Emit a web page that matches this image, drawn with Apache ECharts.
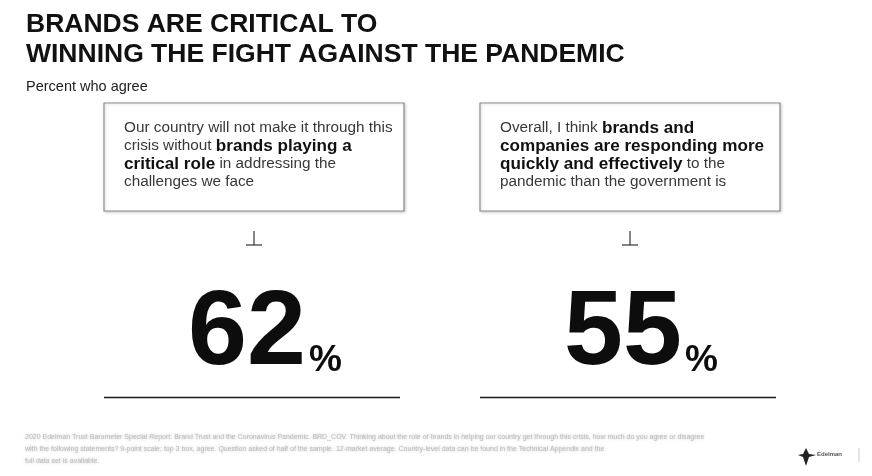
<!DOCTYPE html>
<html>
<head>
<meta charset="utf-8">
<script src="https://cdn.jsdelivr.net/npm/echarts@6/dist/echarts.min.js"></script>
<style>
html,body{margin:0;padding:0;background:#fff;}
#c{width:872px;height:476px;}
</style>
</head>
<body>
<div id="c"></div>
<script>
// ---- data ----
const titleText = 'BRANDS ARE CRITICAL TO\nWINNING THE FIGHT AGAINST THE PANDEMIC';
const subtitleText = 'Percent who agree';
const categories = ['Brands critical role', 'Brands responding faster'];
const statements = [
  'Our country will not make it through this\ncrisis without {b|brands playing a}\n{b|critical role} in addressing the\nchallenges we face',
  'Overall, I think {b|brands and}\n{b|companies are responding more}\n{b|quickly and effectively} to the\npandemic than the government is'
];
const values = [62, 55];
const footnoteText = '2020 Edelman Trust Barometer Special Report: Brand Trust and the Coronavirus Pandemic. BRD_COV. Thinking about the role of brands in helping our country get through this crisis, how much do you agree or disagree\nwith the following statements? 9-point scale; top 3 box, agree. Question asked of half of the sample. 12-market average. Country-level data can be found in the Technical Appendix and the\nfull data set is available.';
const logoText = 'Edelman';

const FONT = '"Liberation Sans", Arial, Helvetica, sans-serif';
const chart = echarts.init(document.getElementById('c'), null, {renderer: 'canvas'});

const option = {
  backgroundColor: '#ffffff',
  animation: false,
  title: {
    text: titleText,
    subtext: subtitleText,
    left: 21,
    top: 5,
    itemGap: 9,
    textStyle: {fontFamily: FONT, fontSize: 26.5, fontWeight: 'bold', color: '#111', lineHeight: 30},
    subtextStyle: {fontFamily: FONT, fontSize: 14.5, color: '#222'}
  },
  grid: {left: 66, right: 54, top: 285, height: 96},
  xAxis: {type: 'category', data: categories, show: false},
  yAxis: {type: 'category', data: ['agree'], show: false},
  series: [{
    type: 'scatter',
    symbolSize: 0,
    itemStyle: {opacity: 1, color: '#0d0d0d'},
    data: values.map((v, i) => [i, 0, v]),
    encode: {x: 0, y: 1},
    label: {
      show: true,
      position: 'inside',
      offset: [11, 0],
      opacity: 1,
      color: '#0d0d0d',
      textBorderWidth: 0,
      formatter: p => '{n|' + p.value[2] + '}{p|%}',
      rich: {
        n: {fontFamily: FONT, fontSize: 106, fontWeight: 'bold', color: '#0d0d0d', verticalAlign: 'bottom', lineHeight: 110, textBorderWidth: 0},
        p: {fontFamily: FONT, fontSize: 37, fontWeight: 'bold', color: '#0d0d0d', verticalAlign: 'bottom', lineHeight: 110, padding: [0, 0, 9, 3], textBorderWidth: 0}
      }
    }
  }]
};
chart.setOption(option);

// build annotation graphics around each category position
const graphics = [];
categories.forEach((c, i) => {
  const cx = chart.convertToPixel({xAxisIndex: 0}, i);
  const boxL = cx - 150, boxW = 300, boxT = 103, boxH = 108;
  graphics.push({
    type: 'rect', shape: {x: boxL, y: boxT, width: boxW, height: boxH},
    style: {fill: '#fff', stroke: '#8c8c8c', lineWidth: 1.2, shadowColor: 'rgba(0,0,0,0.18)', shadowBlur: 3, shadowOffsetX: 1, shadowOffsetY: 1}
  });
  graphics.push({
    type: 'text', x: boxL + 20, y: boxT + 16,
    style: {
      text: statements[i], fontFamily: FONT, fontSize: 15.3, fill: '#383838', lineHeight: 18,
      rich: {b: {fontFamily: FONT, fontSize: 17.1, fontWeight: 'bold', fill: '#111', lineHeight: 18}}
    }
  });
  // connector
  graphics.push({type: 'line', shape: {x1: cx, y1: 231, x2: cx, y2: 245}, style: {stroke: '#333', lineWidth: 1.2}});
  graphics.push({type: 'line', shape: {x1: cx - 8, y1: 245, x2: cx + 8, y2: 245}, style: {stroke: '#333', lineWidth: 1.2}});
  // underline
  graphics.push({type: 'line', shape: {x1: boxL, y1: 397.5, x2: boxL + 296, y2: 397.5}, style: {stroke: '#1a1a1a', lineWidth: 1.6}});
});
// footnote
graphics.push({
  type: 'text', x: 25, y: 431,
  style: {text: footnoteText, fontFamily: FONT, fontSize: 7, fill: '#bdbdbd', lineHeight: 12, width: 740, overflow: 'truncate',
          textShadowColor: 'rgba(150,150,150,0.6)', textShadowBlur: 3}
});
// logo
graphics.push({type: 'polygon', shape: {points: [[806,448],[809,454],[816,455],[809,457],[806,466],[803,457],[798,455],[803,454]]}, style: {fill: '#222'}});
graphics.push({type: 'text', x: 817, y: 451, style: {text: logoText, fontFamily: FONT, fontSize: 6, fontWeight: 'bold', fill: '#555'}});
graphics.push({type: 'line', shape: {x1: 859, y1: 448, x2: 859, y2: 462}, style: {stroke: '#ccc', lineWidth: 1}});
chart.setOption({graphic: graphics});
</script>
</body>
</html>
